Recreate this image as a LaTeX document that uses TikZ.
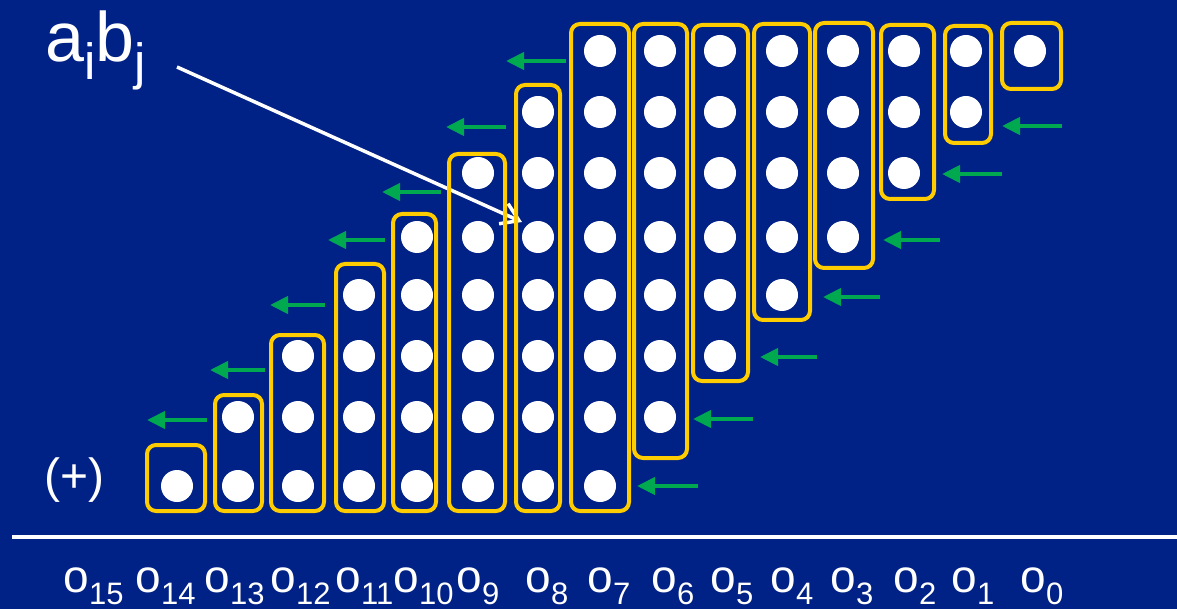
\documentclass[tikz,border=0pt]{standalone}
\usepackage{fontspec}
\setmainfont{Liberation Sans}
\usetikzlibrary{arrows.meta}

\definecolor{slidebg}{RGB}{0,33,133}
\definecolor{boxyellow}{RGB}{255,204,0}
\definecolor{flowgreen}{RGB}{0,168,80}

\begin{document}
\begin{tikzpicture}[x=1pt,y=-1pt,
  colbox/.style={draw=boxyellow, line width=4pt, rounded corners=9pt, inner sep=0pt},
  dot/.style={circle, fill=white, minimum size=32pt, inner sep=0pt},
  carry/.style={draw=flowgreen, line width=4pt, -{Triangle[length=18pt,width=17pt]}},
  pointer/.style={draw=white, line width=3.5pt, -{Straight Barb[length=17pt,width=22pt]}},
  rule/.style={draw=white, line width=4pt},
  lbl/.style={text=white, inner sep=0pt, anchor=base west},
]
% slide background
\fill[slidebg] (0,0) rectangle (1177,609);
\useasboundingbox (0,0) rectangle (1177,609);

% caption and pointer to one partial product
\node[lbl] (aibj) at (45.4,62) {\fontsize{70}{70}\selectfont a\raisebox{-18pt}{\fontsize{51}{51}\selectfont i}b\raisebox{-18pt}{\fontsize{51}{51}\selectfont j}};
\coordinate (ptrfrom) at (177,67);
\coordinate (ptrto) at (522,222);
\draw[pointer] (ptrfrom) -- (ptrto);

% column boxes: index / left / right / top / bottom
\foreach \c/\bl/\br/\bt/\bb in {
  1/145/207/443/513, 2/213/264/393/513, 3/269/326/333/513, 4/334/386/262/513,
  5/391/438/212/513, 6/447/507/152/513, 7/514/562/83/513, 8/569/631/22/513,
  9/632/689/22/460, 10/691/750/23/383, 11/752/812/22/322, 12/813/875/21/270,
  13/879/936/23/201, 14/943/993/24/145, 15/1000/1063/21/91} {
  \pgfmathsetmacro\bw{\br-\bl-4}
  \pgfmathsetmacro\bh{\bb-\bt-4}
  \node[colbox, minimum width=\bw pt, minimum height=\bh pt] (box\c) at ({(\bl+\br)/2},{(\bt+\bb)/2}) {};
}

% partial-product dots: column / x / first row / last row
\foreach \c/\cx/\ra/\rb in {
  1/177/8/8, 2/238/7/8, 3/298/6/8, 4/359/5/8, 5/417/4/8, 6/478/3/8, 7/538/2/8,
  8/600/1/8, 9/660/1/7, 10/720/1/6, 11/782/1/5, 12/843/1/4, 13/904/1/3,
  14/966/1/2, 15/1030/1/1} {
  \foreach \rw in {\ra,...,\rb} {
    \pgfmathsetmacro\yy{{51,112,173,237,295,356,417,486}[\rw-1]}
    \node[dot] (d\c-\rw) at (\cx,\yy) {};
  }
}

% carry arrows: index / tip x / tail x / y
\foreach \n/\tipx/\tailx/\ay in {
  1/506/566/61, 2/446/506/127, 3/382/441/192, 4/328/385/240, 5/270/325/305,
  6/210/265/370, 7/147/207/420,
  8/1002/1062/126, 9/942/1002/174, 10/883/940/240, 11/823/880/297,
  12/760/817/357, 13/693/753/419, 14/637/698/486} {
  \coordinate (gtail\n) at (\tailx,\ay);
  \coordinate (gtip\n) at (\tipx,\ay);
  \draw[carry] (gtail\n) -- (gtip\n);
}

% carry-in marker
\node[lbl] (plus) at (44,492) {\fontsize{48}{48}\selectfont (+)};

% sum rule
\coordinate (rulea) at (12,537);
\coordinate (ruleb) at (1177,537);
\draw[rule] (rulea) -- (ruleb);

% output bits
\foreach \k/\ox in {15/65, 14/137, 13/206, 12/272, 11/337, 10/395, 9/458, 8/527,
  7/589, 6/653, 5/712, 4/772, 3/832, 2/895, 1/953, 0/1022} {
  \node[lbl] (o\k) at (\ox-1.6,592) {\fontsize{46}{46}\selectfont o\raisebox{-12pt}{\fontsize{31}{31}\selectfont\k}};
}
\end{tikzpicture}
\end{document}
